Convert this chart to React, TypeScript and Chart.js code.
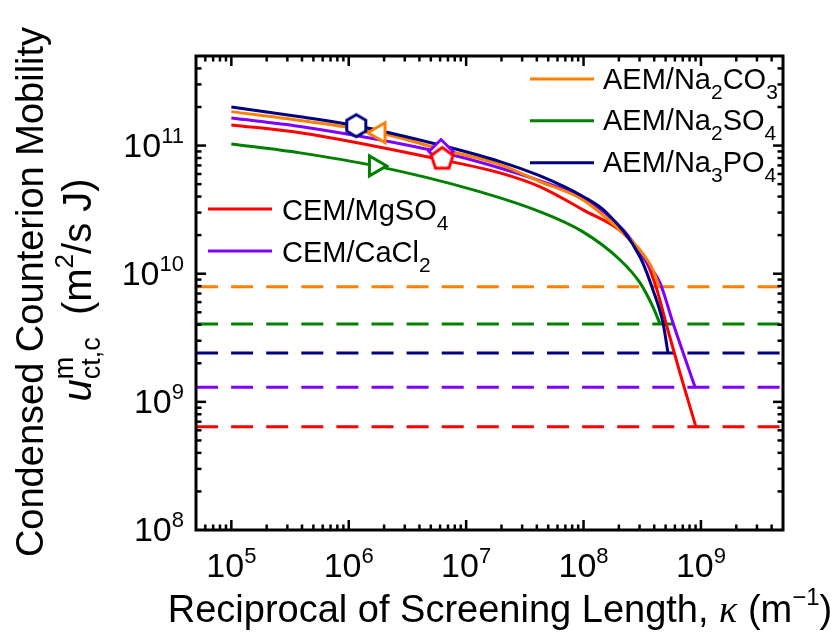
import React, { useEffect, useRef } from "react";
import { Chart, registerables } from "chart.js";
Chart.register(...registerables);

// ---------- axis ranges / ticks ----------
const xMin = 5e4;
const xMax = 5e9;
const yMin = 1e8;
const yMax = 5e11;
const xTickExponents = [5, 6, 7, 8, 9];
const yTickExponents = [8, 9, 10, 11];

// ---------- series data (kappa in 1/m, mobility in m^2/(s J)) ----------
const kappaNa2CO3 = [1e5, 3.86e5, 1.82e6, 6.0e6, 1.94e7, 4.27e7, 9.9e7, 2.17e8, 3.03e8, 3.9e8, 4.4e8];
const muNa2CO3 = [1.84e11, 1.57e11, 1.26e11, 9.4e10, 7.1e10, 5.22e10, 3.77e10, 2.08e10, 1.53e10, 1.07e10, 7.9e9];

const kappaNa2SO4 = [1e5, 3.86e5, 1.68e6, 1.15e7, 4.27e7, 9.9e7, 2.05e8, 3.03e8, 3.9e8, 4.48e8];
const muNa2SO4 = [1.03e11, 8.77e10, 6.94e10, 4.51e10, 3.04e10, 2.12e10, 1.28e10, 8.48e9, 5.51e9, 4.06e9];

const kappaNa3PO4 = [1e5, 3.86e5, 1.16e6, 6.0e6, 1.94e7, 4.27e7, 9.9e7, 1.58e8, 3.03e8, 3.9e8, 4.75e8, 5.24e8];
const muNa3PO4 = [2.0e11, 1.68e11, 1.43e11, 1.01e11, 7.5e10, 5.79e10, 4.0e10, 2.98e10, 1.35e10, 7.48e9, 4.13e9, 2.41e9];

const kappaMgSO4 = [1e5, 3.86e5, 6.25e6, 1.94e7, 4.27e7, 9.9e7, 2.17e8, 3.47e8, 4.22e8, 5.14e8, 6.63e8, 9.06e8];
const muMgSO4 = [1.45e11, 1.26e11, 7.73e10, 6.12e10, 4.76e10, 3.15e10, 2.08e10, 1.21e10, 7.48e9, 3.84e9, 1.68e9, 6.4e8];

const kappaCaCl2 = [1e5, 3.86e5, 6.0e6, 1.94e7, 4.27e7, 9.9e7, 2.17e8, 3.68e8, 4.48e8, 5.78e8, 8.89e8];
const muCaCl2 = [1.64e11, 1.41e11, 8.9e10, 6.68e10, 5.3e10, 3.91e10, 2.2e10, 1.13e10, 8.48e9, 4.13e9, 1.31e9];

// limiting (dashed) levels
const limitNa2CO3 = 7.9e9;
const limitNa2SO4 = 4.06e9;
const limitNa3PO4 = 2.41e9;
const limitMgSO4 = 6.4e8;
const limitCaCl2 = 1.3e9;

// markers [kappa, mobility]
const markerNa3PO4 = [1.16e6, 1.43e11];
const markerNa2CO3 = [1.82e6, 1.26e11];
const markerNa2SO4 = [1.68e6, 6.94e10];
const markerCaCl2 = [6.11e6, 8.98e10];
const markerMgSO4 = [6.25e6, 7.87e10];

const ORANGE = "#FF8000";
const GREEN = "#008000";
const NAVY = "#000080";
const RED = "#FF0000";
const PURPLE = "#8000FF";

const SANS = "'Liberation Sans', Arial, sans-serif";
const SERIF = "'Liberation Serif', 'Times New Roman', serif";

type Seg = { t: string; size: number; dy?: number; italic?: boolean; serif?: boolean; stack?: Seg[] };

function segFont(s: Seg) {
  return `${s.italic ? "italic " : ""}${s.size}px ${s.serif ? SERIF : SANS}`;
}
function segWidth(ctx: CanvasRenderingContext2D, s: Seg): number {
  if (s.stack) return Math.max(...s.stack.map((k) => segWidth(ctx, k)));
  ctx.font = segFont(s);
  return ctx.measureText(s.t).width;
}
function drawSegs(ctx: CanvasRenderingContext2D, segs: Seg[], x: number, y: number, align: "left" | "center" | "right") {
  const total = segs.reduce((a, s) => a + segWidth(ctx, s), 0);
  let cx = align === "left" ? x : align === "center" ? x - total / 2 : x - total;
  ctx.textAlign = "left";
  ctx.textBaseline = "alphabetic";
  for (const s of segs) {
    if (s.stack) {
      for (const k of s.stack) {
        ctx.font = segFont(k);
        ctx.fillText(k.t, cx, y + (k.dy || 0));
      }
    } else {
      ctx.font = segFont(s);
      ctx.fillText(s.t, cx, y + (s.dy || 0));
    }
    cx += segWidth(ctx, s);
  }
}
// "AEM/Na_2CO_3" -> segments with single-char subscripts
function legendSegs(label: string): Seg[] {
  const out: Seg[] = [];
  const parts = label.split(/_(\d)/);
  parts.forEach((p, i) => {
    if (!p) return;
    if (i % 2 === 1) out.push({ t: p, size: 21, dy: 10 });
    else out.push({ t: p, size: 29 });
  });
  return out;
}

const legendLabelsTop = ["AEM/Na_2CO_3", "AEM/Na_2SO_4", "AEM/Na_3PO_4"];
const legendLabelsBottom = ["CEM/MgSO_4", "CEM/CaCl_2"];

export default function App() {
  const ref = useRef<HTMLCanvasElement>(null);

  useEffect(() => {
    const canvas = ref.current!;

    const makePoly = (n: number, r: number, color: string) => {
      const c = document.createElement("canvas");
      const s = Math.ceil(2 * r + 6);
      c.width = s;
      c.height = s;
      const g = c.getContext("2d")!;
      g.beginPath();
      for (let i = 0; i < n; i++) {
        const a = (i * 2 * Math.PI) / n;
        const px = s / 2 + r * Math.sin(a);
        const py = s / 2 - r * Math.cos(a);
        if (i) g.lineTo(px, py);
        else g.moveTo(px, py);
      }
      g.closePath();
      g.fillStyle = "#fff";
      g.fill();
      g.lineWidth = 3;
      g.strokeStyle = color;
      g.stroke();
      return c;
    };
    const hexagon = makePoly(6, 11, NAVY);
    const pentagon = makePoly(5, 11.5, RED);

    const toXY = (xs: number[], ys: number[]) => xs.map((x, i) => ({ x, y: ys[i] }));

    const curve = (xs: number[], ys: number[], color: string) => ({
      data: toXY(xs, ys),
      borderColor: color,
      borderWidth: 3,
      pointRadius: 0,
      fill: false,
      cubicInterpolationMode: "monotone" as const,
      borderJoinStyle: "round" as const,
      order: 1,
    });
    const dashed = (level: number, color: string) => ({
      data: [
        { x: xMin, y: level },
        { x: xMax, y: level },
      ],
      borderColor: color,
      borderWidth: 3,
      borderDash: [22, 13.1],
      pointRadius: 0,
      fill: false,
      order: 2,
    });
    const marker = (m: number[], color: string, style: any, rotation = 0, radius = 11) => ({
      data: [{ x: m[0], y: m[1] }],
      showLine: false,
      pointStyle: style,
      pointRotation: rotation,
      pointRadius: radius,
      pointBorderWidth: 3,
      pointBorderColor: color,
      pointBackgroundColor: "#fff",
      borderColor: color,
      order: 0,
    });

    const decor = {
      id: "decor",
      afterDraw(chart: any) {
        const ctx: CanvasRenderingContext2D = chart.ctx;
        const { left, right, top, bottom } = chart.chartArea;
        const xs = chart.scales.x;
        const ys = chart.scales.y;
        ctx.save();
        ctx.strokeStyle = "#000";
        ctx.fillStyle = "#000";
        const seg = (x1: number, y1: number, x2: number, y2: number) => {
          ctx.beginPath();
          ctx.moveTo(x1, y1);
          ctx.lineTo(x2, y2);
          ctx.stroke();
        };
        // ticks (inward on all four sides)
        ctx.lineWidth = 2.5;
        for (let e = 4; e <= 9; e++) {
          for (let k = 1; k <= 9; k++) {
            const v = k * Math.pow(10, e);
            if (v <= xMin * 1.0001 || v >= xMax * 0.9999) continue;
            const p = xs.getPixelForValue(v);
            const len = k === 1 ? 10 : 5.5;
            seg(p, bottom, p, bottom - len);
            seg(p, top, p, top + len);
          }
        }
        for (let e = 8; e <= 11; e++) {
          for (let k = 1; k <= 9; k++) {
            const v = k * Math.pow(10, e);
            if (v <= yMin * 1.0001 || v >= yMax * 0.9999) continue;
            const p = ys.getPixelForValue(v);
            const len = k === 1 ? 10 : 5.5;
            seg(left, p, left + len, p);
            seg(right, p, right - len, p);
          }
        }
        // frame
        ctx.lineWidth = 3;
        ctx.strokeRect(left, top, right - left, bottom - top);

        // tick labels
        for (const e of xTickExponents) {
          const p = xs.getPixelForValue(Math.pow(10, e));
          drawSegs(ctx, [{ t: "10", size: 34 }, { t: String(e), size: 22, dy: -14 }], p, 577, "center");
        }
        for (const e of yTickExponents) {
          const p = ys.getPixelForValue(Math.pow(10, e));
          drawSegs(ctx, [{ t: "10", size: 34 }, { t: String(e), size: 22, dy: -14 }], 184, p + 11, "right");
        }

        // x title
        drawSegs(
          ctx,
          [
            { t: "Reciprocal of Screening Length, ", size: 38 },
            { t: "κ", size: 38, italic: true, serif: true },
            { t: " (m", size: 38 },
            { t: "−1", size: 24, dy: -17 },
            { t: ")", size: 38 },
          ],
          500,
          622,
          "center"
        );

        // y title (two rotated lines)
        ctx.save();
        ctx.translate(43, 292);
        ctx.rotate(-Math.PI / 2);
        drawSegs(ctx, [{ t: "Condensed Counterion Mobility", size: 38 }], 0, 0, "center");
        ctx.restore();
        ctx.save();
        ctx.translate(91, 290);
        ctx.rotate(-Math.PI / 2);
        drawSegs(
          ctx,
          [
            { t: "u", size: 40, italic: true },
            {
              t: "",
              size: 27,
              stack: [
                { t: "m", size: 27, dy: -18 },
                { t: "ct,c", size: 27, dy: 9 },
              ],
            },
            { t: "  (m", size: 40 },
            { t: "2", size: 26, dy: -18 },
            { t: "/s J)", size: 40 },
          ],
          0,
          0,
          "center"
        );
        ctx.restore();

        // legends
        const topColors = [ORANGE, GREEN, NAVY];
        const topRows = [79, 120.7, 162.7];
        legendLabelsTop.forEach((lab, i) => {
          ctx.strokeStyle = topColors[i];
          ctx.lineWidth = 3;
          seg(530, topRows[i], 594, topRows[i]);
          ctx.fillStyle = "#000";
          drawSegs(ctx, legendSegs(lab), 603, topRows[i] + 9.5, "left");
        });
        const botColors = [RED, PURPLE];
        const botRows = [209, 251];
        legendLabelsBottom.forEach((lab, i) => {
          ctx.strokeStyle = botColors[i];
          ctx.lineWidth = 3;
          seg(208, botRows[i], 272, botRows[i]);
          ctx.fillStyle = "#000";
          drawSegs(ctx, legendSegs(lab), 282, botRows[i] + 10.5, "left");
        });
        ctx.restore();
      },
    };

    const chart = new Chart(canvas, {
      type: "line",
      data: {
        datasets: [
          marker(markerNa3PO4, NAVY, hexagon),
          marker(markerNa2CO3, ORANGE, "triangle", -90, 11.5),
          marker(markerNa2SO4, GREEN, "triangle", 90, 11.5),
          marker(markerMgSO4, RED, pentagon),
          marker(markerCaCl2, PURPLE, "rectRot", 0, 12),
          curve(kappaNa3PO4, muNa3PO4, NAVY),
          curve(kappaNa2CO3, muNa2CO3, ORANGE),
          curve(kappaCaCl2, muCaCl2, PURPLE),
          curve(kappaMgSO4, muMgSO4, RED),
          curve(kappaNa2SO4, muNa2SO4, GREEN),
          dashed(limitNa2CO3, ORANGE),
          dashed(limitNa2SO4, GREEN),
          dashed(limitNa3PO4, NAVY),
          dashed(limitCaCl2, PURPLE),
          dashed(limitMgSO4, RED),
        ] as any,
      },
      options: {
        animation: false,
        responsive: false,
        devicePixelRatio: 1,
        events: [],
        layout: { padding: { left: 196, top: 56, right: 49, bottom: 104 } },
        plugins: { legend: { display: false }, tooltip: { enabled: false } },
        scales: {
          x: { type: "logarithmic", min: xMin, max: xMax, display: false },
          y: { type: "logarithmic", min: yMin, max: yMax, display: false },
        },
      },
      plugins: [decor],
    });
    return () => chart.destroy();
  }, []);

  return (
    <div style={{ position: "fixed", left: 0, top: 0, width: 832, height: 634, background: "#fff" }}>
      <canvas ref={ref} width={832} height={634} style={{ display: "block" }} />
    </div>
  );
}
